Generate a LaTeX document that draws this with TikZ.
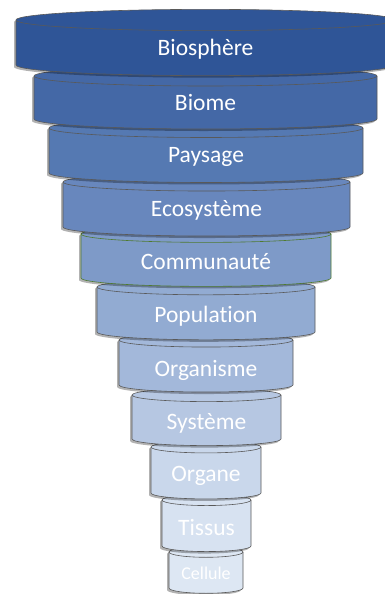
\documentclass[tikz,border=0pt]{standalone}
\usepackage{fontspec}
\setmainfont{Carlito}[Ligatures=NoCommon]
\usepackage{tikz}
\usetikzlibrary{shadows}

\definecolor{cA}{HTML}{2F5597}
\definecolor{cB}{HTML}{4468A6}
\definecolor{cC}{HTML}{5579B2}
\definecolor{cD}{HTML}{6887BD}
\definecolor{cE}{HTML}{7E9AC8}
\definecolor{cF}{HTML}{92ABD2}
\definecolor{cG}{HTML}{A3B8DA}
\definecolor{cH}{HTML}{B6C7E2}
\definecolor{cI}{HTML}{C9D7EB}
\definecolor{cJ}{HTML}{D7E2F1}
\definecolor{cK}{HTML}{DDE7F3}
\definecolor{rimgray}{HTML}{595959}
\definecolor{rimgreen}{HTML}{4F7A30}

\begin{document}
\begin{tikzpicture}[x=1pt,y=-1pt,
    lbl/.style={text=white,anchor=base,inner sep=0pt},
    rim/.style={line width=0.6pt}]
        \useasboundingbox (0,0) rectangle (385,594);
        % discs from the bottom up, so each one hides the back of the one below
        \foreach \name/\txt/\cx/\rx/\yt/\yb/\ty/\col/\sz/\ec
          [evaluate=\rx as \ry using 0.035*\rx+4] in {
            cellule/Cellule/206/37/552/588/579/cK/18/rimgray,
            tissus/Tissus/206.5/44.5/500/546/535.7/cJ/23.5/rimgray,
            organe/Organe/206/55/447/493/481.7/cI/23.5/rimgray,
            systeme/Système/206.5/74.5/395/439/429/cH/23.5/rimgray,
            organisme/Organisme/206/87/340/385/376/cG/23.5/rimgray,
            population/Population/206/109/287/332/322.7/cF/23.5/rimgray,
            communaute/Communauté/206/125/234/278/269/cE/23.5/rimgreen,
            ecosysteme/Ecosystème/206.5/143.5/182/227/216/cD/23.5/rimgray,
            paysage/Paysage/206/157/128/173/162.7/cC/23.5/rimgray,
            biome/Biome/205.5/171.5/76/119/110/cB/23.5/rimgray,
            biosphere/Biosphère/205.5/189.5/20/65/56/cA/23.5/rimgray} {
          \fill[\col,drop shadow={shadow xshift=-2pt,shadow yshift=-2pt,opacity=0.3,fill=black}]
            (\cx-\rx,\yt) -- (\cx-\rx,\yb)
            arc[start angle=180,end angle=0,x radius=\rx,y radius=\ry]
            -- (\cx+\rx,\yt)
            arc[start angle=0,end angle=-180,x radius=\rx,y radius=\ry] -- cycle;
          \draw[rim,\ec] (\cx-\rx,\yt) -- (\cx-\rx,\yb)
            arc[start angle=180,end angle=0,x radius=\rx,y radius=\ry]
            -- (\cx+\rx,\yt);
          \draw[rim,\ec] (\cx,\yt) ellipse[x radius=\rx,y radius=\ry];
          \node[lbl,font=\fontsize{\sz}{\sz}\selectfont] (\name) at (\cx,\ty) {\txt};
        }
      \end{tikzpicture}
\end{document}
